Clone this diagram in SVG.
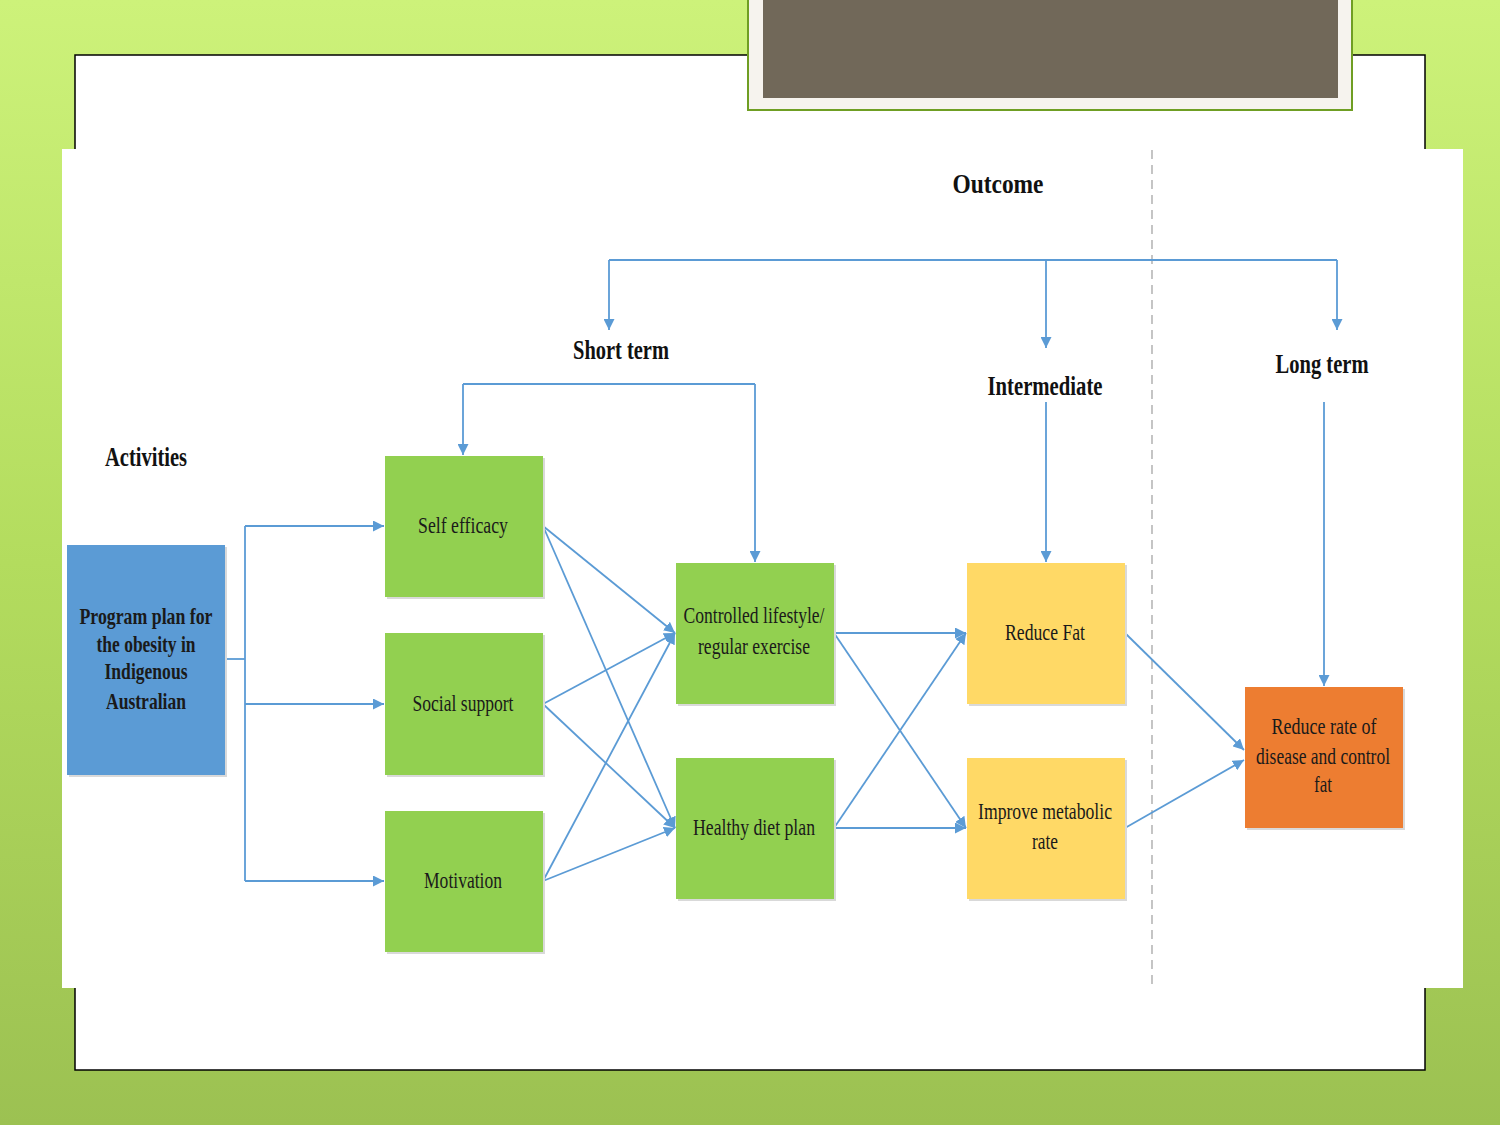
<svg xmlns="http://www.w3.org/2000/svg" width="1500" height="1125" viewBox="0 0 1500 1125">
<defs>
<linearGradient id="bg" x1="0" y1="0" x2="0" y2="1">
<stop offset="0" stop-color="#cdf27a"/>
<stop offset="0.5" stop-color="#b3dc5e"/>
<stop offset="1" stop-color="#9cc152"/>
</linearGradient>
<marker id="ah" viewBox="0 0 10 10" refX="10" refY="5" markerWidth="11" markerHeight="11" markerUnits="userSpaceOnUse" orient="auto">
<path d="M0,0 L10,5 L0,10 Z" fill="#5b9bd5"/>
</marker>
</defs>
<style>
.n{stroke:none}
.sh{fill:#d9d9d9}
.t{font-family:"Liberation Serif","Times New Roman",serif;font-size:23px;fill:#1a1a1a;text-anchor:middle}
.b{font-weight:bold}
.h{font-family:"Liberation Serif","Times New Roman",serif;font-size:27px;font-weight:bold;fill:#111;text-anchor:middle}
.c{fill:none;stroke:#5b9bd5;stroke-width:1.8}
.ca{fill:none;stroke:#5b9bd5;stroke-width:1.8;marker-end:url(#ah)}
</style>
<rect x="0" y="0" width="1500" height="1125" fill="url(#bg)"/>
<rect x="75" y="55" width="1350" height="1015" fill="#fff" stroke="#000" stroke-width="1.5"/>
<g id="title-box">
<rect x="748" y="-2" width="604" height="112" fill="#f6f3ee" stroke="#6f9e23" stroke-width="2"/>
<rect x="763" y="0" width="575" height="98" fill="#716859"/>
</g>
<rect x="62" y="149" width="1401" height="839" fill="#fff"/>
<line x1="1152" y1="150" x2="1152" y2="988" stroke="#a6a6a6" stroke-width="1.3" stroke-dasharray="9,6"/>

<g id="labels">
<text class="h" x="998" y="193" textLength="91" lengthAdjust="spacingAndGlyphs">Outcome</text>
<text class="h" x="621" y="359" textLength="96" lengthAdjust="spacingAndGlyphs">Short term</text>
<text class="h" x="1045" y="395" textLength="115" lengthAdjust="spacingAndGlyphs">Intermediate</text>
<text class="h" x="1322" y="373" textLength="93" lengthAdjust="spacingAndGlyphs">Long term</text>
<text class="h" x="146" y="466" textLength="82" lengthAdjust="spacingAndGlyphs">Activities</text>
</g>

<g id="connectors">
<polyline class="c" points="225,659 245,659"/>
<polyline class="c" points="245,526 245,881"/>
<polyline class="ca" points="245,526 384,526"/>
<polyline class="ca" points="245,704 384,704"/>
<polyline class="ca" points="245,881 384,881"/>
<polyline class="c" points="609,260 1337,260"/>
<polyline class="ca" points="609,260 609,330"/>
<polyline class="ca" points="1046,260 1046,348"/>
<polyline class="ca" points="1337,260 1337,330"/>
<polyline class="ca" points="463,384 463,455"/>
<polyline class="c" points="463,384 755,384"/>
<polyline class="ca" points="755,384 755,562"/>
<polyline class="ca" points="1046,402 1046,562"/>
<polyline class="ca" points="1324,402 1324,686"/>
<polyline class="ca" points="543,526 675,633"/>
<polyline class="ca" points="543,526 675,828"/>
<polyline class="ca" points="543,704 675,633"/>
<polyline class="ca" points="543,704 675,828"/>
<polyline class="ca" points="543,881 675,633"/>
<polyline class="ca" points="543,881 675,828"/>
<polyline class="ca" points="834,633 966,633"/>
<polyline class="ca" points="834,633 966,828"/>
<polyline class="ca" points="834,828 966,633"/>
<polyline class="ca" points="834,828 966,828"/>
<polyline class="ca" points="1125,633 1244,750"/>
<polyline class="ca" points="1125,828 1244,760"/>
</g>

<g id="program-plan">
<rect class="sh" x="69" y="547" width="158" height="230"/>
<rect class="n" x="67" y="545" width="158" height="230" fill="#5b9bd5"/>
<text class="t b" x="146" y="624" textLength="133" lengthAdjust="spacingAndGlyphs">Program plan for</text>
<text class="t b" x="146" y="652" textLength="99" lengthAdjust="spacingAndGlyphs">the obesity in</text>
<text class="t b" x="146" y="679" textLength="83" lengthAdjust="spacingAndGlyphs">Indigenous</text>
<text class="t b" x="146" y="709" textLength="80" lengthAdjust="spacingAndGlyphs">Australian</text>
</g>
<g id="self-efficacy">
<rect class="sh" x="387" y="458" width="158" height="141"/>
<rect class="n" x="385" y="456" width="158" height="141" fill="#92d050"/>
<text class="t" x="463" y="533" textLength="90" lengthAdjust="spacingAndGlyphs">Self efficacy</text>
</g>
<g id="social-support">
<rect class="sh" x="387" y="635" width="158" height="142"/>
<rect class="n" x="385" y="633" width="158" height="142" fill="#92d050"/>
<text class="t" x="463" y="711" textLength="101" lengthAdjust="spacingAndGlyphs">Social support</text>
</g>
<g id="motivation">
<rect class="sh" x="387" y="813" width="158" height="141"/>
<rect class="n" x="385" y="811" width="158" height="141" fill="#92d050"/>
<text class="t" x="463" y="888" textLength="78" lengthAdjust="spacingAndGlyphs">Motivation</text>
</g>
<g id="controlled-lifestyle">
<rect class="sh" x="678" y="565" width="158" height="141"/>
<rect class="n" x="676" y="563" width="158" height="141" fill="#92d050"/>
<text class="t" x="754" y="623" textLength="141" lengthAdjust="spacingAndGlyphs">Controlled lifestyle/</text>
<text class="t" x="754" y="654" textLength="112" lengthAdjust="spacingAndGlyphs">regular exercise</text>
</g>
<g id="healthy-diet">
<rect class="sh" x="678" y="760" width="158" height="141"/>
<rect class="n" x="676" y="758" width="158" height="141" fill="#92d050"/>
<text class="t" x="754" y="835" textLength="122" lengthAdjust="spacingAndGlyphs">Healthy diet plan</text>
</g>
<g id="reduce-fat">
<rect class="sh" x="969" y="565" width="158" height="141"/>
<rect class="n" x="967" y="563" width="158" height="141" fill="#ffd966"/>
<text class="t" x="1045" y="640" textLength="80" lengthAdjust="spacingAndGlyphs">Reduce Fat</text>
</g>
<g id="improve-metabolic">
<rect class="sh" x="969" y="760" width="158" height="141"/>
<rect class="n" x="967" y="758" width="158" height="141" fill="#ffd966"/>
<text class="t" x="1045" y="819" textLength="134" lengthAdjust="spacingAndGlyphs">Improve metabolic</text>
<text class="t" x="1045" y="849" textLength="26" lengthAdjust="spacingAndGlyphs">rate</text>
</g>
<g id="reduce-disease">
<rect class="sh" x="1247" y="689" width="158" height="141"/>
<rect class="n" x="1245" y="687" width="158" height="141" fill="#ed7d31"/>
<text class="t" x="1324" y="734" textLength="105" lengthAdjust="spacingAndGlyphs">Reduce rate of</text>
<text class="t" x="1323" y="764" textLength="134" lengthAdjust="spacingAndGlyphs">disease and control</text>
<text class="t" x="1323" y="792" textLength="18" lengthAdjust="spacingAndGlyphs">fat</text>
</g>
</svg>
